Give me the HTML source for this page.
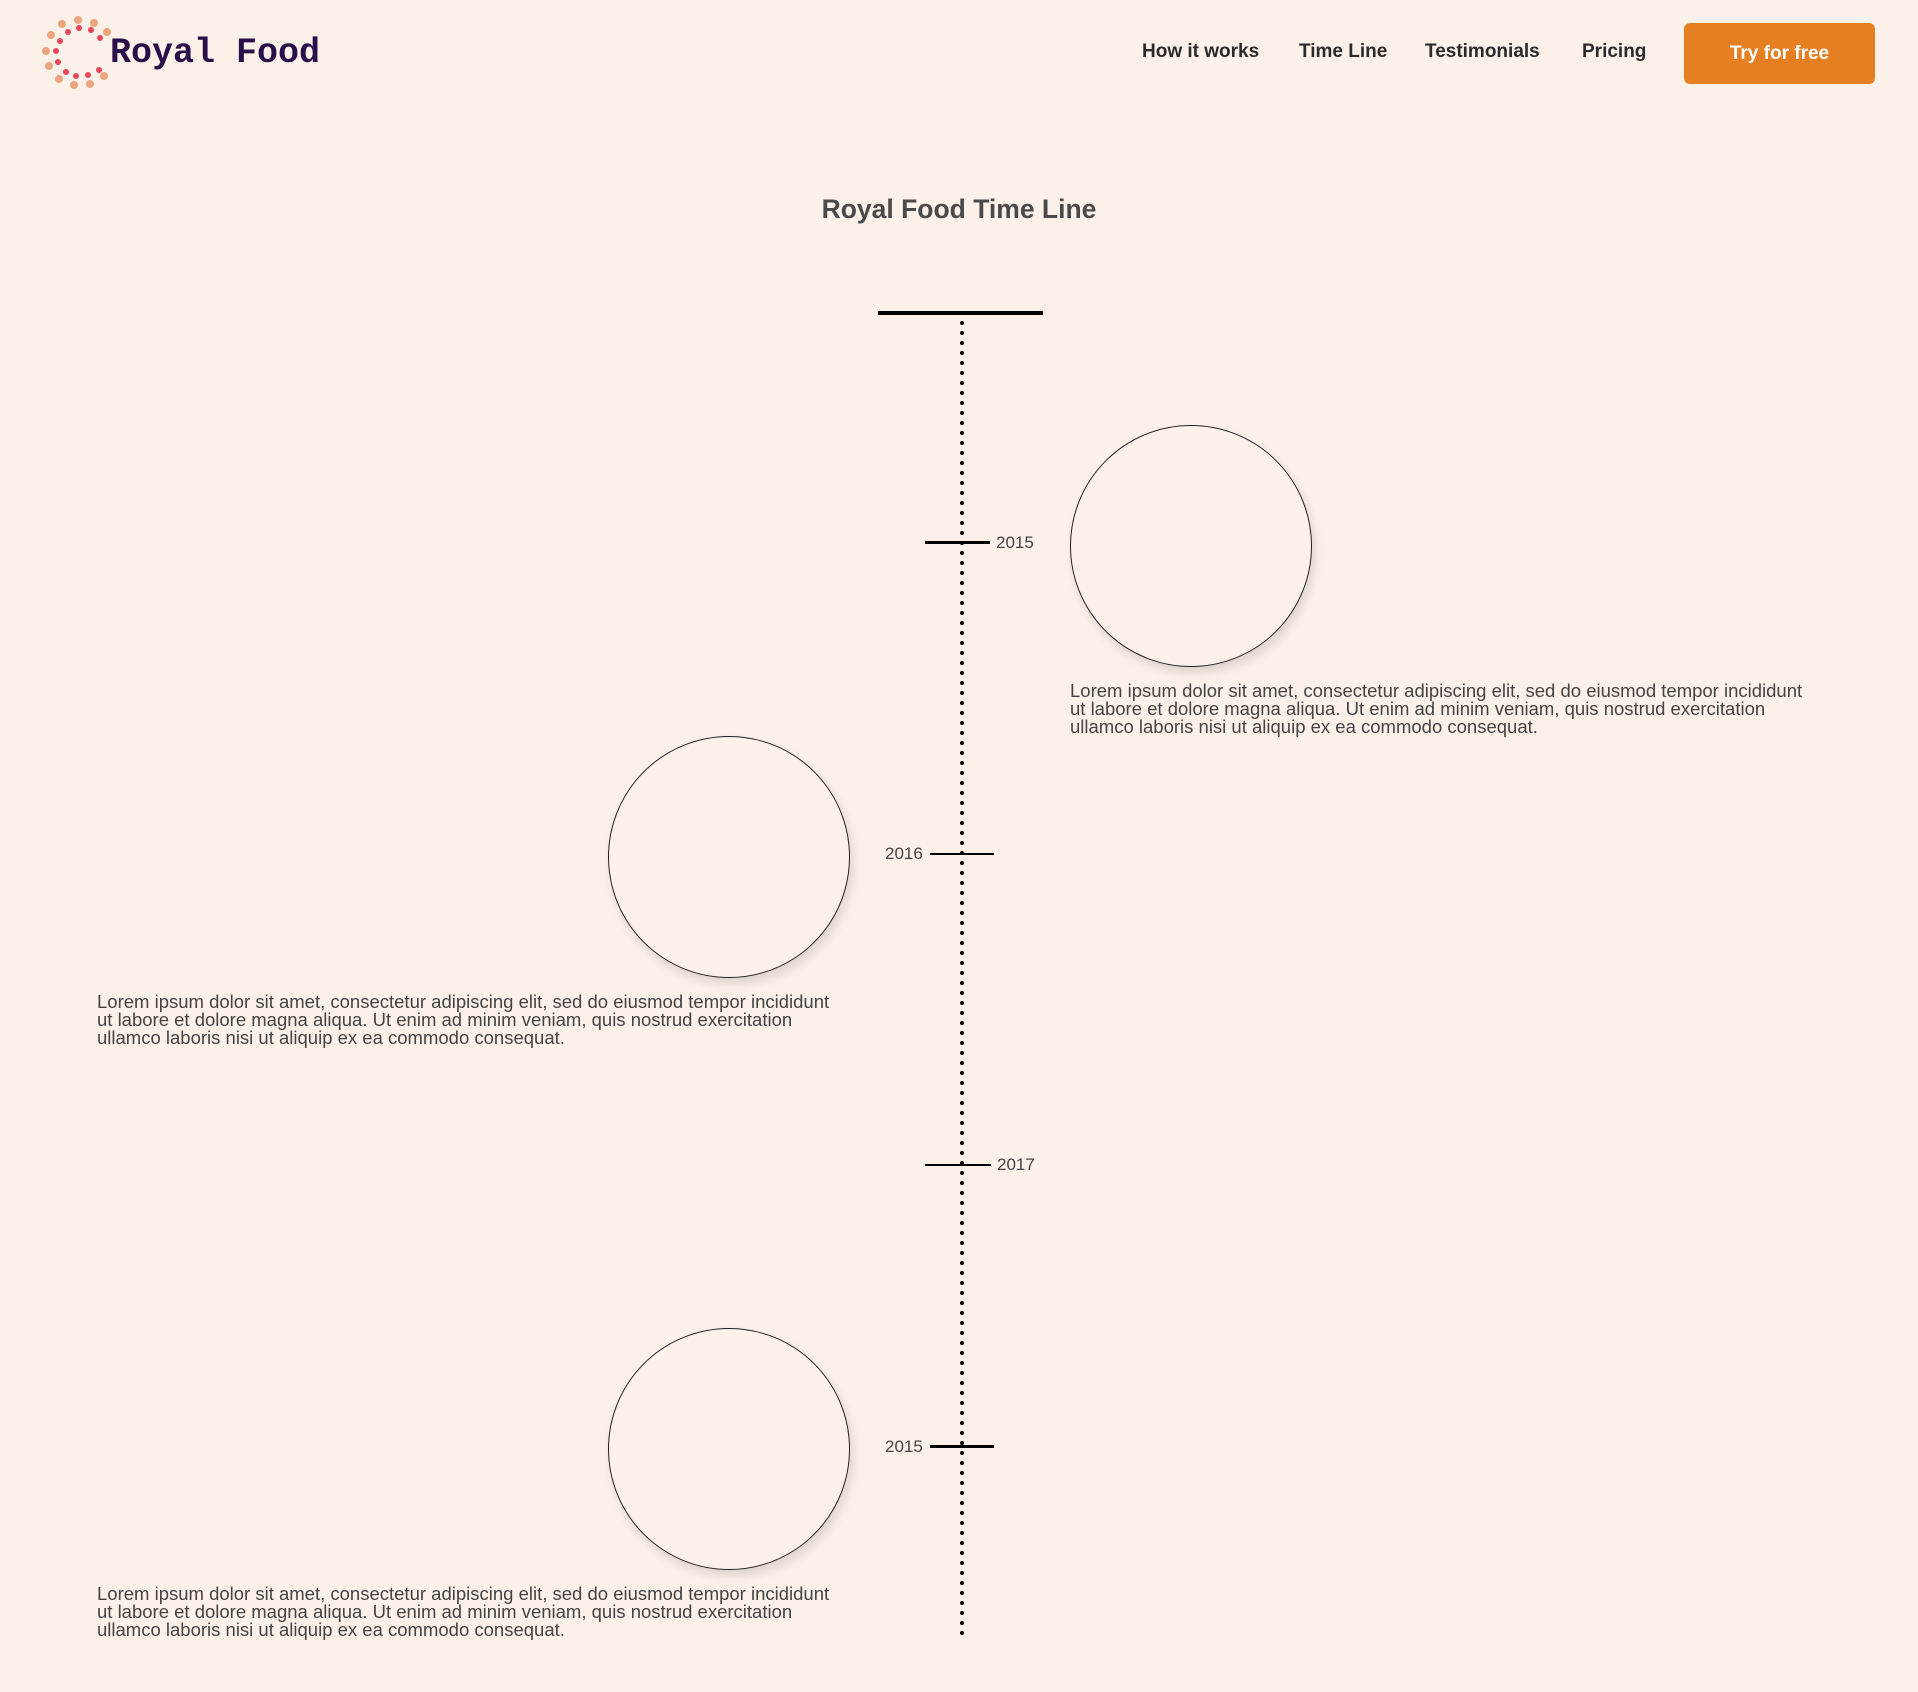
<!DOCTYPE html>
<html><head><meta charset="utf-8"><style>
html,body{margin:0;padding:0}
body{width:1918px;height:1692px;background:#fcf1e9;position:relative;overflow:hidden;font-family:"Liberation Sans",sans-serif}
.a{position:absolute}
.nav{top:41px;font-weight:bold;font-size:19px;color:#2b2b2b}
.btn{left:1684px;top:23px;width:191px;height:61px;background:#e67e22;border-radius:6px;color:#fff;font-weight:bold;font-size:19px;text-align:center;line-height:61px}
.circ{width:240px;height:240px;border:1.3px solid #222;border-radius:50%;box-shadow:3px 6px 10px rgba(0,0,0,0.12)}
.txt{font-size:18.5px;line-height:17.8px;color:#444;white-space:nowrap}
.tick{height:3px;background:#000}
.yr{font-size:17px;color:#444}
</style></head><body>
<svg class="a" style="left:40px;top:14px" width="80" height="80" viewBox="0 0 80 80">
<g fill="#eda57e">
<circle cx="38" cy="6" r="4"/><circle cx="54" cy="9" r="4"/><circle cx="67" cy="18" r="4"/><circle cx="22" cy="10" r="4"/><circle cx="11" cy="21" r="4"/><circle cx="6" cy="37" r="4"/><circle cx="9" cy="52" r="4"/><circle cx="19" cy="65" r="4"/><circle cx="34" cy="71" r="4"/><circle cx="50" cy="70" r="4"/><circle cx="64" cy="62" r="4"/>
</g>
<g fill="#e8455a">
<circle cx="39" cy="14" r="3"/><circle cx="51" cy="16" r="3"/><circle cx="60" cy="24" r="3"/><circle cx="28" cy="18" r="3"/><circle cx="20" cy="27" r="3"/><circle cx="16" cy="37" r="3"/><circle cx="18" cy="48" r="3"/><circle cx="26" cy="58" r="3"/><circle cx="36" cy="62" r="3"/><circle cx="48" cy="61" r="3"/><circle cx="59" cy="56" r="3"/>
</g></svg>
<div class="a" style="left:110px;top:33px;font-family:'Liberation Mono',monospace;font-weight:bold;font-size:35px;color:#2a0f4a">Royal Food</div>
<div class="a nav" style="left:1142px">How it works</div>
<div class="a nav" style="left:1299px">Time Line</div>
<div class="a nav" style="left:1425px">Testimonials</div>
<div class="a nav" style="left:1582px">Pricing</div>
<div class="a btn">Try for free</div>
<div class="a" style="left:0;width:1918px;top:194px;text-align:center;font-weight:bold;font-size:26.5px;color:#4a4a4a">Royal Food Time Line</div>

<div class="a" style="left:878px;top:311px;width:165px;height:4px;background:#000"></div>
<svg class="a" style="left:956px;top:318px" width="12" height="1322">
<line x1="6" y1="5" x2="6" y2="1320" stroke="#000" stroke-width="4" stroke-linecap="round" stroke-dasharray="0 10"/>
</svg>

<div class="a tick" style="left:925px;top:541px;width:65px"></div>
<div class="a yr" style="left:996px;top:533px">2015</div>
<div class="a circ" style="left:1070px;top:425px"></div>
<div class="a txt" style="left:1070px;top:682px">Lorem ipsum dolor sit amet, consectetur adipiscing elit, sed do eiusmod tempor incididunt<br>ut labore et dolore magna aliqua. Ut enim ad minim veniam, quis nostrud exercitation<br>ullamco laboris nisi ut aliquip ex ea commodo consequat.</div>

<div class="a tick" style="left:930px;top:853px;width:64px;height:2px"></div>
<div class="a yr" style="left:885px;top:844px">2016</div>
<div class="a circ" style="left:608px;top:736px"></div>
<div class="a txt" style="left:97px;top:993px">Lorem ipsum dolor sit amet, consectetur adipiscing elit, sed do eiusmod tempor incididunt<br>ut labore et dolore magna aliqua. Ut enim ad minim veniam, quis nostrud exercitation<br>ullamco laboris nisi ut aliquip ex ea commodo consequat.</div>

<div class="a tick" style="left:925px;top:1164px;width:66px;height:2px"></div>
<div class="a yr" style="left:997px;top:1155px">2017</div>

<div class="a tick" style="left:930px;top:1445px;width:64px"></div>
<div class="a yr" style="left:885px;top:1437px">2015</div>
<div class="a circ" style="left:608px;top:1328px"></div>
<div class="a txt" style="left:97px;top:1585px">Lorem ipsum dolor sit amet, consectetur adipiscing elit, sed do eiusmod tempor incididunt<br>ut labore et dolore magna aliqua. Ut enim ad minim veniam, quis nostrud exercitation<br>ullamco laboris nisi ut aliquip ex ea commodo consequat.</div>
</body></html>
